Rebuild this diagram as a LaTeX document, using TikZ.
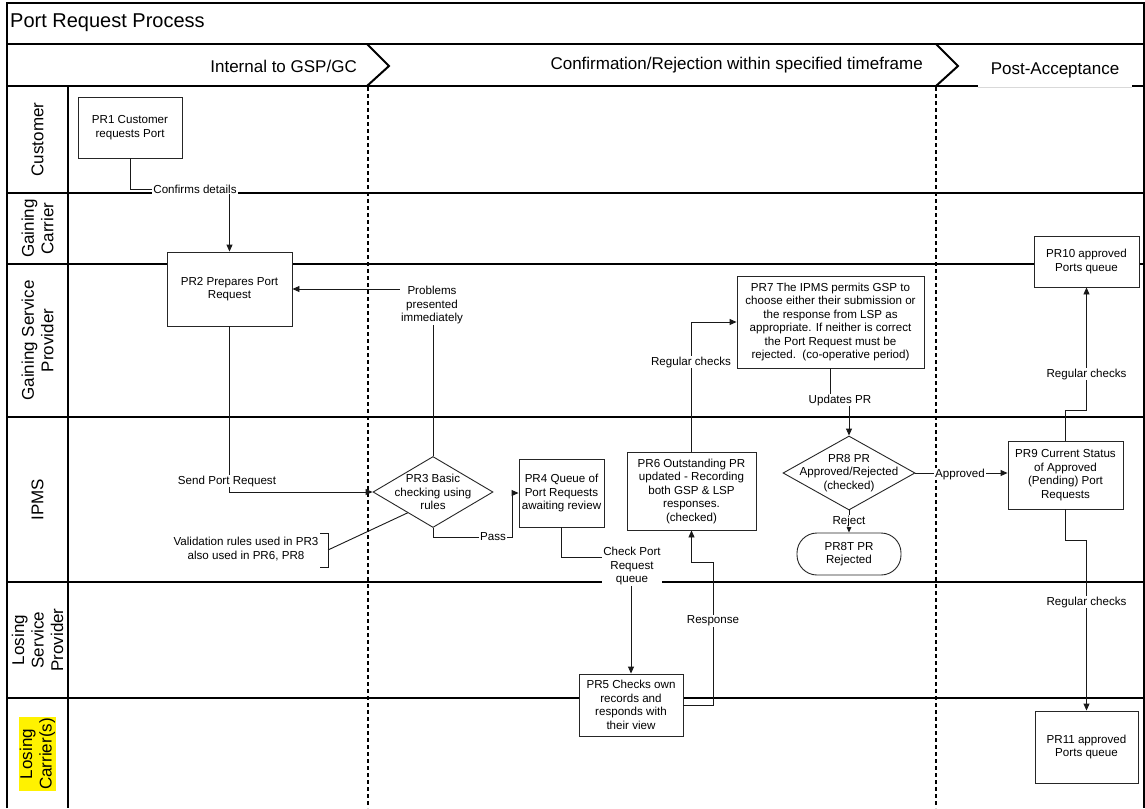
\documentclass[tikz,border=0pt]{standalone}
\usepackage{fontspec}
\setmainfont{Liberation Sans}
\usetikzlibrary{shapes.geometric,arrows.meta,calc}
\begin{document}
\begin{tikzpicture}[x=1pt,y=-1pt,
  frameline/.style={line width=1.1pt, draw=black},
  phaseline/.style={line width=2.4pt, dash pattern=on 4pt off 3pt},
  chev/.style={line width=2pt, line join=miter},
  procbox/.style={draw=black!85, line width=0.9pt, fill=white, rectangle, align=center, inner sep=0pt, font=\fontsize{11.6}{13.5}\selectfont},
  decision/.style={draw=black!85, line width=0.9pt, fill=white, diamond, inner sep=0pt},
  terminal/.style={procbox, rounded corners=20pt},
  txt/.style={align=center, inner sep=0pt, font=\fontsize{11.6}{13.5}\selectfont},
  lbl/.style={fill=white, align=center, inner sep=1pt, font=\fontsize{11.6}{13.5}\selectfont},
  conn/.style={line width=0.9pt, draw=black!90},
  arr/.style={conn, -{Triangle[length=7pt,width=6pt]}},
  lanelbl/.style={rotate=90, align=center, inner sep=1pt, font=\fontsize{17}{19.5}\selectfont},
  hdr/.style={inner sep=0pt, font=\fontsize{17}{20}\selectfont}
]
\useasboundingbox (0,0) rectangle (1145,808);
\fill[white] (0,0) rectangle (1145,808);

% frame and lanes
\draw[frameline] (7,808) -- (7,3) -- (1144,3) -- (1144,808);
\draw[frameline] (7,44) -- (1144,44);
\draw[frameline] (7,86) -- (1144,86);
\draw[frameline] (68,86) -- (68,808);
\foreach \yy in {193,264,417,582,698} \draw[frameline] (7,\yy) -- (1144,\yy);

% post-acceptance white box
\fill[white] (978,48) rectangle (1132,87.5);
\draw[black!15, line width=0.6pt] (978,87) -- (1132,87);

% title and headers
\node[anchor=west, inner sep=0pt, font=\fontsize{20}{24}\selectfont] (title) at (10,23) {Port Request Process};
\node[hdr, anchor=east] (h1) at (357,66) {Internal to GSP/GC};
\node[hdr, anchor=east] (h2) at (923,65) {Confirmation/Rejection within specified timeframe};
\node[hdr] (h3) at (1055,70) {Post-Acceptance};

% phase separators
\draw[chev] (367,44) -- (389,66) -- (367,86);
\draw[chev] (936,44) -- (958,66) -- (936,86);
\draw[phaseline] (368,87) -- (368,808);
\draw[phaseline] (936,87) -- (936,808);

% lane labels
\node[lanelbl] (l1) at (37.5,139.5) {Customer};
\node[lanelbl] (l2) at (37.5,228.5) {Gaining\\Carrier};
\node[lanelbl] (l3) at (37.5,340.5) {Gaining Service\\Provider};
\node[lanelbl] (l4) at (37.5,499.5) {IPMS};
\node[lanelbl] (l5) at (37.5,640) {Losing\\Service\\Provider};
\node[lanelbl, fill=yellow] (l6) at (37.5,754) {Losing\\Carrier(s)};

% process nodes
\node[procbox, minimum width=104pt, minimum height=61pt] (pr1) at (130,127.5) {PR1 Customer\\requests Port};
\node[procbox, minimum width=125pt, minimum height=74pt] (pr2) at (229.5,289) {PR2 Prepares Port\\Request};
\node[decision, minimum width=120pt, minimum height=71pt] (pr3) at (433,492) {};
\node[procbox, minimum width=85pt, minimum height=68pt] (pr4) at (561.5,493) {PR4 Queue of\\Port Requests\\awaiting review};
\node[procbox, minimum width=104pt, minimum height=62pt] (pr5) at (631,705) {PR5 Checks own\\records and\\responds with\\their view};
\node[procbox, minimum width=129pt, minimum height=78pt] (pr6) at (691.5,491) {PR6 Outstanding PR\\updated - Recording\\both GSP \& LSP\\responses.\\(checked)};
\node[procbox, minimum width=187pt, minimum height=92pt] (pr7) at (830.5,322) {PR7 The IPMS permits GSP to\\choose either their submission or\\the response from LSP as\\appropriate. If neither is correct\\the Port Request must be\\rejected.\ \ (co-operative period)};
\node[decision, minimum width=132pt, minimum height=74pt] (pr8) at (849,473) {};
\node[terminal, minimum width=104pt, minimum height=42pt] (pr8t) at (849,554) {PR8T PR\\Rejected};
\node[procbox, minimum width=115pt, minimum height=68pt] (pr9) at (1065.5,475) {PR9 Current Status\\of Approved\\(Pending) Port\\Requests};
\node[procbox, minimum width=105pt, minimum height=51pt] (pr10) at (1086.5,261.5) {PR10 approved\\Ports queue};
\node[procbox, minimum width=103pt, minimum height=72pt] (pr11) at (1086.5,747) {PR11 approved\\Ports queue};

% connectors
\draw[arr] (pr1.south) |- (229.5,189) -- (pr2.north);
\draw[arr] (pr2.south) |- (pr3.west);
\draw[arr] (pr3.north) |- (pr2.east);
\draw[arr] (pr3.south) |- (512,537) |- (pr4.west);
\draw[arr] (pr4.south) |- (631,557) -- (pr5.north);
\draw[arr] (pr5.east) -| (713,562) -| (pr6.south);
\draw[arr] (pr6.north) |- (pr7.west);
\draw[arr] (pr7.south) -- (830.5,400) -- (849,400) -- (pr8.north);
\draw[arr] (pr8.south) -- (pr8t.north);
\draw[arr] (pr8.east) -- (pr8.east -| pr9.west);
\draw[arr] (pr9.north) |- (1086.5,410) -- (pr10.south);
\draw[arr] (pr9.south) |- (1086.5,540) -- (pr11.north);

% annotation
\coordinate (brk) at (328,550);
\draw[conn] (320,533) -- (328,533) -- (328,567) -- (320,567);
\draw[conn] (brk) -- ($(pr3.west)!0.58!(pr3.south)$);
\node[txt] (note) at (246,549) {Validation rules used in PR3\\also used in PR6, PR8};

% decision texts
\node[txt] (pr3t) at (pr3) {PR3 Basic\\checking using\\rules};
\node[txt] (pr8tx) at (pr8) {PR8 PR\\Approved/Rejected\\(checked)};

% connector labels
\node[lbl] (c1) at (195,189) {Confirms details};
\node[lbl] (c2) at (227,481) {Send Port Request};
\node[lbl] (c3) at (432,305) {Problems\\presented\\immediately};
\node[lbl] (c4) at (493,537) {Pass};
\node[lbl] (c5) at (632,566) {Check Port\\Request\\queue};
\node[lbl] (c6) at (713,621) {Response};
\node[lbl] (c7) at (691,362) {Regular checks};
\node[lbl] (c8) at (840,400) {Updates PR};
\node[lbl] (c9) at (849,521) {Reject};
\node[lbl] (c10) at (960,474) {Approved};
\node[lbl] (c11) at (1086.5,374) {Regular checks};
\node[lbl] (c12) at (1086.5,602) {Regular checks};
\end{tikzpicture}
\end{document}
